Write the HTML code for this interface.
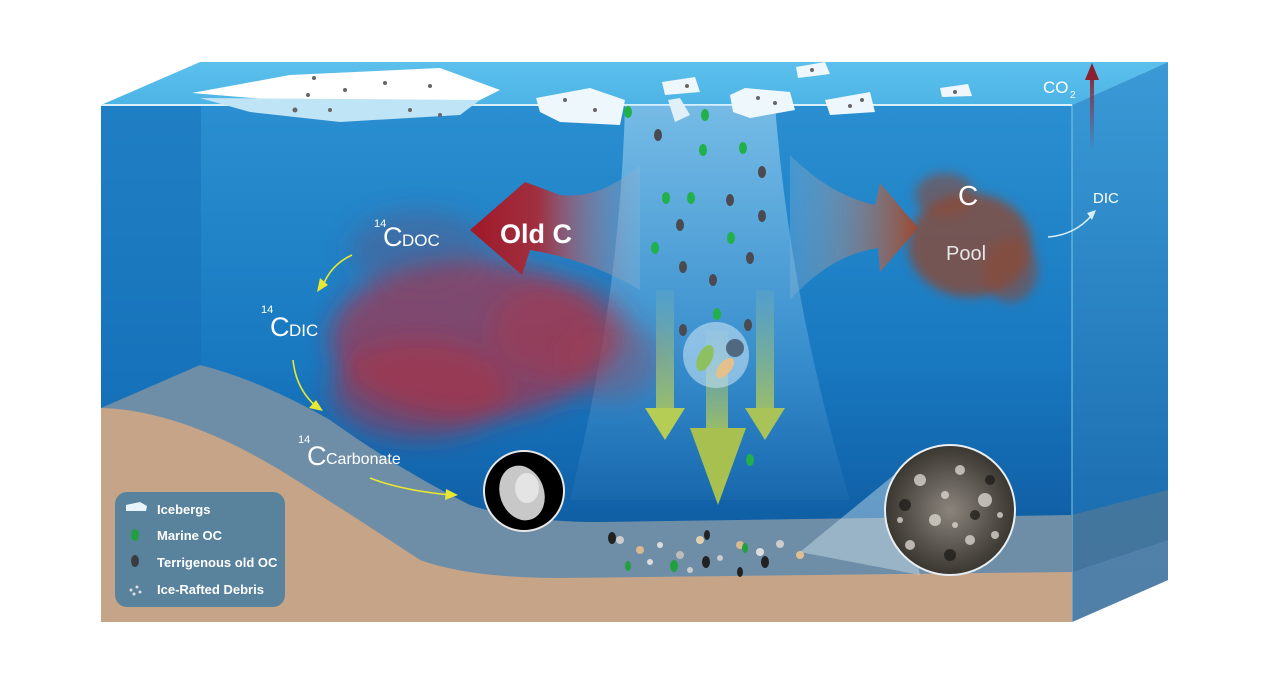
<!DOCTYPE html>
<html><head><meta charset="utf-8"><style>
html,body{margin:0;padding:0;background:#fff;width:1269px;height:685px;overflow:hidden}
svg{display:block}
text{font-family:"Liberation Sans",sans-serif}
</style></head><body>
<svg width="1269" height="685" viewBox="0 0 1269 685" xmlns="http://www.w3.org/2000/svg">
<defs>
<linearGradient id="water" x1="0" y1="0" x2="0" y2="1">
<stop offset="0" stop-color="#2a8fd0"/><stop offset="0.5" stop-color="#1878c0"/><stop offset="1" stop-color="#0b4f94"/></linearGradient>
<linearGradient id="side" x1="0" y1="0" x2="0" y2="1">
<stop offset="0" stop-color="#3a9ad6"/><stop offset="1" stop-color="#1565a8"/></linearGradient>
<linearGradient id="top" x1="0" y1="0" x2="0" y2="1">
<stop offset="0" stop-color="#5cc0ec"/><stop offset="1" stop-color="#4cb4e6"/></linearGradient>
<linearGradient id="beam" x1="0" y1="0" x2="0" y2="1">
<stop offset="0" stop-color="#a8d8f4" stop-opacity="0.6"/><stop offset="1" stop-color="#8ec8ee" stop-opacity="0.05"/></linearGradient>
<linearGradient id="arrG" x1="0" y1="0" x2="0" y2="1">
<stop offset="0" stop-color="#b8d080" stop-opacity="0.1"/><stop offset="1" stop-color="#b5cc55"/></linearGradient>
<linearGradient id="oldc" x1="1" y1="0" x2="0" y2="0">
<stop offset="0" stop-color="#8fb8d8" stop-opacity="0.3"/><stop offset="0.6" stop-color="#a03040"/><stop offset="1" stop-color="#a01828"/></linearGradient>
<linearGradient id="poolA" x1="0" y1="0" x2="1" y2="0">
<stop offset="0" stop-color="#8fb8d8" stop-opacity="0.3"/><stop offset="1" stop-color="#9a4a30"/></linearGradient>
<linearGradient id="co2" x1="0" y1="1" x2="0" y2="0">
<stop offset="0" stop-color="#8a3040" stop-opacity="0"/><stop offset="1" stop-color="#8a2030"/></linearGradient>
<filter id="blur8"><feGaussianBlur stdDeviation="12"/></filter>
<filter id="blur4"><feGaussianBlur stdDeviation="5"/></filter>
<radialGradient id="sed" cx="0.5" cy="0.5" r="0.5">
<stop offset="0" stop-color="#8a847c"/><stop offset="1" stop-color="#3a3630"/></radialGradient>
</defs>

<polygon points="101,105 200,62 1168,62 1072,105" fill="url(#top)"/>
<rect x="101" y="105" width="971" height="517" fill="url(#water)"/>
<rect x="101" y="105" width="100" height="300" fill="#1670b8" opacity="0.5"/>
<polygon points="1072,105 1168,62 1168,580 1072,622" fill="url(#side)"/>
<polygon points="1072,515 1168,490 1168,540 1072,572" fill="#4d7898" opacity="0.8"/>
<polygon points="1072,572 1168,540 1168,580 1072,622" fill="#5f86a6" opacity="0.8"/>
<line x1="1072" y1="105" x2="1072" y2="622" stroke="#7cc6ee" stroke-width="1"/>
<line x1="101" y1="105" x2="1072" y2="105" stroke="#d8f0fc" stroke-width="2"/>

<path d="M625,105 L775,105 Q790,300 850,500 L570,500 Q620,300 625,105 Z" fill="url(#beam)"/>

<g filter="url(#blur8)">
<ellipse cx="470" cy="340" rx="140" ry="80" fill="#c02838" opacity="0.6"/>
<ellipse cx="420" cy="390" rx="90" ry="50" fill="#b02a3c" opacity="0.5"/>
<ellipse cx="560" cy="330" rx="70" ry="50" fill="#b03040" opacity="0.4"/>
<ellipse cx="420" cy="250" rx="70" ry="40" fill="#7a4060" opacity="0.3"/>
<ellipse cx="610" cy="360" rx="50" ry="40" fill="#a04050" opacity="0.35"/>
</g>
<g filter="url(#blur4)">
<ellipse cx="970" cy="245" rx="62" ry="52" fill="#8a4a38" opacity="0.8"/>
<ellipse cx="945" cy="195" rx="30" ry="22" fill="#8a4a38" opacity="0.6"/>
<ellipse cx="1010" cy="270" rx="28" ry="32" fill="#8a4a38" opacity="0.6"/>
</g>

<path d="M101,408 L200,365 Q260,380 330,420 Q400,470 470,505 Q520,522 600,522 L1072,515 L1072,622 L101,622 Z" fill="#6e8ea8"/>
<path d="M101,408 Q180,410 280,470 Q360,520 420,560 Q470,578 560,578 L1072,572 L1072,622 L101,622 Z" fill="#c6a488"/>

<path d="M640,165 Q600,200 560,195 L525,182 L470,230 L522,275 L530,250 Q590,260 640,290 Z" fill="url(#oldc)"/>
<text x="500" y="243" font-size="27" font-weight="bold" fill="#fff">Old C</text>
<path d="M790,155 Q830,195 875,205 L880,183 L918,228 L880,272 L878,248 Q830,255 790,300 Z" fill="url(#poolA)"/>

<rect x="656" y="290" width="18" height="120" fill="url(#arrG)" opacity="0.8"/>
<polygon points="645,408 685,408 665,440" fill="#b5cc55"/>
<rect x="756" y="290" width="18" height="120" fill="url(#arrG)" opacity="0.8"/>
<polygon points="745,408 785,408 765,440" fill="#a9c358"/>
<rect x="706" y="330" width="22" height="100" fill="url(#arrG)" opacity="0.8"/>
<polygon points="690,428 746,428 718,505" fill="#a8c050"/>
<circle cx="716" cy="355" r="33" fill="#cfe7f5" opacity="0.55"/>
<ellipse cx="705" cy="358" rx="7" ry="14" fill="#8dc060" transform="rotate(25 705 358)"/>
<circle cx="735" cy="348" r="9" fill="#506880"/>
<ellipse cx="725" cy="368" rx="6" ry="12" fill="#e6c08a" transform="rotate(40 725 368)"/>

<g fill="#22b04a">
<ellipse cx="705" cy="115" rx="4" ry="6"/><ellipse cx="703" cy="150" rx="4" ry="6"/><ellipse cx="743" cy="148" rx="4" ry="6"/>
<ellipse cx="666" cy="198" rx="4" ry="6"/><ellipse cx="691" cy="198" rx="4" ry="6"/><ellipse cx="731" cy="238" rx="4" ry="6"/>
<ellipse cx="655" cy="248" rx="4" ry="6"/><ellipse cx="717" cy="314" rx="4" ry="6"/><ellipse cx="750" cy="460" rx="4" ry="6"/>
<ellipse cx="628" cy="112" rx="4" ry="6"/>
</g>
<g fill="#4a4a50">
<ellipse cx="658" cy="135" rx="4" ry="6"/><ellipse cx="762" cy="172" rx="4" ry="6"/><ellipse cx="730" cy="200" rx="4" ry="6"/>
<ellipse cx="680" cy="225" rx="4" ry="6"/><ellipse cx="762" cy="216" rx="4" ry="6"/><ellipse cx="683" cy="267" rx="4" ry="6"/>
<ellipse cx="750" cy="258" rx="4" ry="6"/><ellipse cx="713" cy="280" rx="4" ry="6"/><ellipse cx="683" cy="330" rx="4" ry="6"/>
<ellipse cx="748" cy="325" rx="4" ry="6"/>
</g>
<g>
<circle cx="620" cy="540" r="4" fill="#ccc"/><circle cx="640" cy="550" r="4" fill="#d8b890"/><circle cx="660" cy="545" r="3" fill="#ddd"/>
<circle cx="680" cy="555" r="4" fill="#bbb"/><circle cx="700" cy="540" r="4" fill="#e0d0b0"/><circle cx="720" cy="558" r="3" fill="#ccc"/>
<circle cx="740" cy="545" r="4" fill="#d8b890"/><circle cx="760" cy="552" r="4" fill="#ddd"/><circle cx="780" cy="544" r="4" fill="#ccc"/>
<circle cx="800" cy="555" r="4" fill="#e0c090"/><circle cx="650" cy="562" r="3" fill="#ddd"/><circle cx="690" cy="570" r="3" fill="#ccc"/>
<ellipse cx="612" cy="538" rx="4" ry="6" fill="#222"/><ellipse cx="706" cy="562" rx="4" ry="6" fill="#222"/><ellipse cx="765" cy="562" rx="4" ry="6" fill="#222"/>
<ellipse cx="707" cy="535" rx="3" ry="5" fill="#222"/><ellipse cx="740" cy="572" rx="3" ry="5" fill="#222"/>
<ellipse cx="628" cy="566" rx="3" ry="5" fill="#22a040"/><ellipse cx="674" cy="566" rx="4" ry="6" fill="#22a040"/><ellipse cx="745" cy="548" rx="3" ry="5" fill="#22a040"/>
</g>
<polygon points="800,552 900,470 920,575" fill="#cfe2ee" opacity="0.45"/>
<circle cx="950" cy="510" r="65" fill="url(#sed)" stroke="#e8eef2" stroke-width="2"/>
<g fill="#d8d4cc" opacity="0.8">
<circle cx="920" cy="480" r="6"/><circle cx="960" cy="470" r="5"/><circle cx="985" cy="500" r="7"/><circle cx="935" cy="520" r="6"/>
<circle cx="970" cy="540" r="5"/><circle cx="910" cy="545" r="5"/><circle cx="995" cy="535" r="4"/><circle cx="945" cy="495" r="4"/>
<circle cx="900" cy="520" r="3"/><circle cx="1000" cy="515" r="3"/><circle cx="955" cy="525" r="3"/>
</g>
<g fill="#1a1816" opacity="0.7"><circle cx="905" cy="505" r="6"/><circle cx="975" cy="515" r="5"/><circle cx="950" cy="555" r="6"/><circle cx="990" cy="480" r="5"/></g>

<circle cx="524" cy="491" r="40" fill="#000" stroke="#e8e8e8" stroke-width="2"/>
<ellipse cx="522" cy="493" rx="22" ry="28" fill="#c8c8c8" transform="rotate(-20 522 493)"/>
<ellipse cx="527" cy="488" rx="12" ry="15" fill="#e4e4e4"/>

<g stroke="#e8e830" stroke-width="1.6" fill="none">
<path d="M352,255 Q330,265 322,288"/>
<path d="M293,360 Q296,390 318,408"/>
<path d="M370,478 Q400,490 450,495"/>
</g>
<g fill="#e8e830">
<polygon points="317,292 320,278 328,285"/>
<polygon points="323,411 309,408 316,400"/>
<polygon points="458,495 445,500 446,489"/>
</g>

<text x="374" y="227" font-size="11" fill="#fff">14</text>
<text x="383" y="246" font-size="27" fill="#fff">C</text><text x="402" y="246" font-size="17" fill="#fff">DOC</text>
<text x="261" y="313" font-size="11" fill="#fff">14</text>
<text x="270" y="336" font-size="27" fill="#fff">C</text><text x="289" y="336" font-size="17" fill="#fff">DIC</text>
<text x="298" y="443" font-size="11" fill="#fff">14</text>
<text x="307" y="465" font-size="27" fill="#fff">C</text><text x="326" y="464" font-size="16" fill="#fff">Carbonate</text>
<text x="958" y="205" font-size="28" fill="#fff">C</text>
<text x="946" y="260" font-size="20" fill="#e6e6e6">Pool</text>
<path d="M1048,237 Q1075,235 1092,215" stroke="#d8eef8" stroke-width="1.5" fill="none"/>
<polygon points="1096,210 1087,213 1092,220" fill="#d8eef8"/>
<text x="1093" y="203" font-size="15" fill="#fff">DIC</text>
<text x="1043" y="93" font-size="17" fill="#fff">CO</text><text x="1070" y="98" font-size="10" fill="#fff">2</text>
<rect x="1090" y="72" width="4" height="80" fill="url(#co2)"/>
<polygon points="1085,80 1092,63 1099,80" fill="#8a2030"/>

<polygon points="192,93 290,75 440,68 500,90 480,100 300,102" fill="#fff"/>
<polygon points="200,98 480,100 460,115 340,122 250,112" fill="#bfe4f6"/>
<polygon points="536,98 590,88 625,100 620,125 560,122 540,112" fill="#eef8fc"/>
<polygon points="662,82 695,77 700,92 665,95" fill="#eef8fc"/>
<polygon points="730,95 745,88 790,92 795,110 750,118 733,112" fill="#eef8fc"/>
<polygon points="825,100 870,92 875,112 830,115" fill="#eef8fc"/>
<polygon points="796,67 825,62 830,74 798,78" fill="#eef8fc"/>
<polygon points="940,88 968,84 972,96 942,97" fill="#eef8fc"/>
<polygon points="668,100 680,98 690,115 675,122" fill="#dff0f8"/>
<g fill="#666">
<circle cx="308" cy="95" r="2"/><circle cx="345" cy="90" r="2"/><circle cx="385" cy="83" r="2"/><circle cx="430" cy="86" r="2"/><circle cx="314" cy="78" r="2"/>
<circle cx="295" cy="110" r="2.5"/><circle cx="330" cy="110" r="2"/><circle cx="410" cy="110" r="2"/><circle cx="440" cy="115" r="2"/>
<circle cx="565" cy="100" r="2"/><circle cx="595" cy="110" r="2"/><circle cx="758" cy="98" r="2"/><circle cx="775" cy="103" r="2"/>
<circle cx="850" cy="106" r="2"/><circle cx="862" cy="100" r="2"/><circle cx="955" cy="92" r="2"/><circle cx="812" cy="70" r="2"/><circle cx="687" cy="86" r="2"/>
</g>

<rect x="115" y="492" width="170" height="115" rx="12" fill="#4f7f9e" opacity="0.92"/>
<polygon points="126,505 140,502 147,506 146,511 126,511" fill="#e8f6fc"/>
<ellipse cx="135" cy="535" rx="4" ry="6" fill="#22a040"/>
<ellipse cx="135" cy="561" rx="4" ry="6" fill="#3c3c40"/>
<g fill="#e0e0e0"><circle cx="131" cy="590" r="1.5"/><circle cx="137" cy="587" r="1.5"/><circle cx="140" cy="592" r="1.5"/><circle cx="134" cy="594" r="1.5"/></g>
<g font-size="13" font-weight="bold" fill="#fff">
<text x="157" y="514">Icebergs</text>
<text x="157" y="540">Marine OC</text>
<text x="157" y="567">Terrigenous old OC</text>
<text x="157" y="594">Ice-Rafted Debris</text>
</g>
</svg>
</body></html>
